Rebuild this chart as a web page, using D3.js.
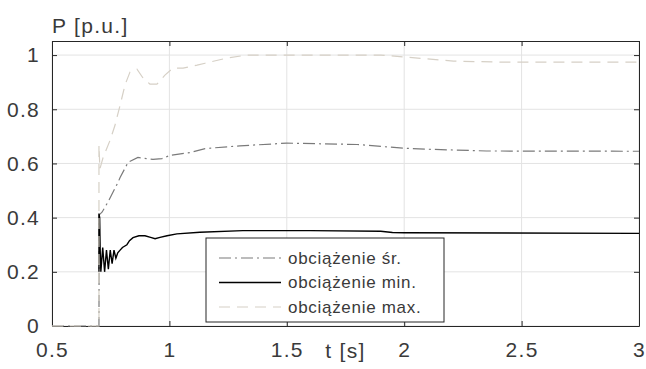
<!DOCTYPE html>
<html>
<head>
<meta charset="utf-8">
<script src="https://cdn.jsdelivr.net/npm/d3@7"></script>
<style>
  body { margin: 0; background: #fff; }
  text { font-family: "Liberation Sans", Arial, sans-serif; fill: #3a3a3a; }
</style>
</head>
<body>
<div class="chart"></div>
<script>
var svgWidth = 646;
var svgHeight = 369;

var margin = { top: 41, right: 7, bottom: 43, left: 52 };

var width = svgWidth - margin.left - margin.right;
var height = svgHeight - margin.top - margin.bottom;

// data: [t, P]
var avgLoad = [
  [0.5, 0], [0.7, 0], [0.701, 0.41], [0.713, 0.42], [0.74, 0.46], [0.781, 0.53],
  [0.79, 0.548], [0.824, 0.604], [0.866, 0.622], [0.93, 0.615], [0.968, 0.618],
  [1.003, 0.63], [1.088, 0.64], [1.152, 0.655], [1.3, 0.665], [1.5, 0.675],
  [1.8, 0.67], [2.0, 0.656], [2.12, 0.652], [2.35, 0.646], [3.0, 0.645]
];
var minLoad = [
  [0.7, 0.2], [0.7, 0.415], [0.703, 0.40], [0.705, 0.29], [0.708, 0.20],
  [0.716, 0.29], [0.724, 0.20], [0.732, 0.28], [0.74, 0.21], [0.748, 0.28],
  [0.756, 0.23], [0.764, 0.28], [0.772, 0.25], [0.78, 0.27],
  [0.79, 0.28], [0.80, 0.29], [0.819, 0.30], [0.83, 0.315], [0.845, 0.326],
  [0.87, 0.333], [0.896, 0.333], [0.92, 0.327], [0.939, 0.322], [0.96, 0.327],
  [0.99, 0.333], [1.032, 0.34], [1.13, 0.346], [1.313, 0.352], [1.6, 0.352],
  [1.9, 0.35], [1.95, 0.345], [2.0, 0.344], [3.0, 0.342]
];
var maxLoad = [
  [0.5, 0], [0.7, 0], [0.7, 0.667], [0.704, 0.58], [0.717, 0.62], [0.747, 0.685],
  [0.768, 0.74], [0.79, 0.815], [0.811, 0.89], [0.832, 0.937], [0.862, 0.948],
  [0.888, 0.915], [0.917, 0.893], [0.947, 0.893], [0.981, 0.926], [1.015, 0.952],
  [1.058, 0.952], [1.118, 0.963], [1.152, 0.97], [1.25, 0.99], [1.33, 1.0],
  [1.9, 1.0], [2.0, 0.993], [2.21, 0.978], [2.41, 0.974], [3.0, 0.974]
];

var xTicks = [0.5, 1, 1.5, 2, 2.5, 3];
var yTicks = [0, 0.2, 0.4, 0.6, 0.8, 1];
var seriesNames = ["obciążenie śr.", "obciążenie min.", "obciążenie max."];

var series = [
  { name: seriesNames[0], values: avgLoad, color: "#7a7a7a", dash: "12,4,2,4", w: 1.2 },
  { name: seriesNames[1], values: minLoad, color: "#000", dash: null, w: 1.4 },
  { name: seriesNames[2], values: maxLoad, color: "#d6d0c6", dash: "11,7", w: 1.2 }
];

var svg = d3.select(".chart")
  .append("svg")
  .attr("width", svgWidth)
  .attr("height", svgHeight);

var chartGroup = svg.append("g")
  .attr("transform", `translate(${margin.left}, ${margin.top})`);

var x = d3.scaleLinear().domain([0.5, 3]).range([0, width]);
var y = d3.scaleLinear().domain([0, 1.052]).range([height, 0]);

// grid
chartGroup.append("g")
  .selectAll("line")
  .data(xTicks)
  .enter()
  .append("line")
  .attr("x1", d => x(d)).attr("x2", d => x(d))
  .attr("y1", 0).attr("y2", height)
  .attr("stroke", "#e3e3e3");

chartGroup.append("g")
  .selectAll("line")
  .data(yTicks)
  .enter()
  .append("line")
  .attr("x1", 0).attr("x2", width)
  .attr("y1", d => y(d)).attr("y2", d => y(d))
  .attr("stroke", "#e3e3e3");

// axes (box with inner ticks)
function styleAxis(g) {
  g.select(".domain").attr("stroke", "#262626");
  g.selectAll(".tick line").attr("stroke", "#262626");
  g.selectAll(".tick text")
    .style("font-size", "21px")
    .style("letter-spacing", "1.3px")
    .attr("fill", "#3a3a3a");
}

var bottomAxis = d3.axisBottom(x).tickValues(xTicks).tickFormat(d3.format("")).tickSizeInner(-5).tickSizeOuter(0).tickPadding(16);
var leftAxis = d3.axisLeft(y).tickValues(yTicks).tickFormat(d3.format("")).tickSizeInner(-5).tickSizeOuter(0).tickPadding(12);

chartGroup.append("g")
  .attr("transform", `translate(0, ${height})`)
  .call(bottomAxis)
  .call(styleAxis);

chartGroup.append("g")
  .call(leftAxis)
  .call(styleAxis);

chartGroup.append("g")
  .call(d3.axisTop(x).tickValues(xTicks).tickFormat("").tickSizeInner(-5).tickSizeOuter(0))
  .call(styleAxis);

chartGroup.append("g")
  .attr("transform", `translate(${width}, 0)`)
  .call(d3.axisRight(y).tickValues(yTicks).tickFormat("").tickSizeInner(-5).tickSizeOuter(0))
  .call(styleAxis);

// lines (drawn over the axes, max last)
var line = d3.line().x(d => x(d[0])).y(d => y(d[1]));

chartGroup.selectAll("path.series")
  .data(series)
  .enter()
  .append("path")
  .attr("class", "series")
  .attr("d", d => line(d.values))
  .attr("fill", "none")
  .attr("stroke", d => d.color)
  .attr("stroke-width", d => d.w)
  .attr("stroke-dasharray", d => d.dash);

// axis labels
svg.append("text")
  .attr("x", margin.left)
  .attr("y", 33)
  .style("font-size", "21px")
  .style("letter-spacing", "1.3px")
  .text("P [p.u.]");

svg.append("text")
  .attr("x", margin.left + width / 2)
  .attr("y", 358)
  .attr("text-anchor", "middle")
  .style("font-size", "21px")
  .style("letter-spacing", "1.3px")
  .text("t [s]");

// legend
var legend = svg.append("g").attr("transform", "translate(206, 238)");
legend.append("rect")
  .attr("width", 238).attr("height", 84)
  .attr("fill", "#fff").attr("stroke", "#262626");

var rows = legend.selectAll("g.row")
  .data(series)
  .enter()
  .append("g")
  .attr("transform", (d, i) => `translate(0, ${20 + i * 24.5})`);

rows.append("line")
  .attr("x1", 13).attr("x2", 75)
  .attr("stroke", d => d.color)
  .attr("stroke-width", d => d.w)
  .attr("stroke-dasharray", d => d.dash);

rows.append("text")
  .attr("x", 82)
  .attr("dy", "0.35em")
  .style("font-size", "17px")
  .style("letter-spacing", "0.7px")
  .text(d => d.name);
</script>
</body>
</html>
